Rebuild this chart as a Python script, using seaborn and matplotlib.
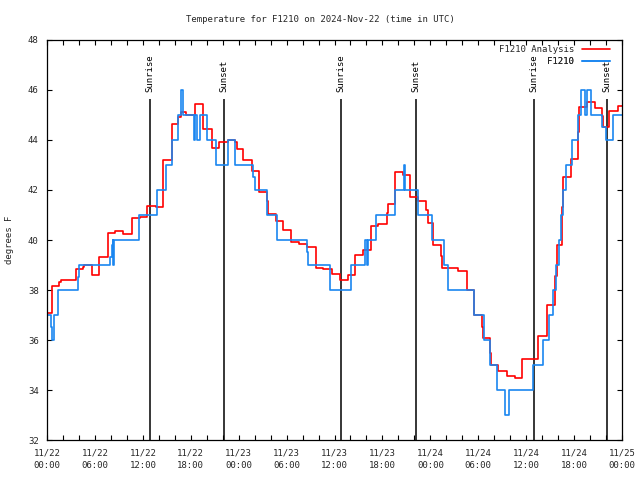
import matplotlib
matplotlib.use("Agg")
import matplotlib.pyplot as plt
import matplotlib.dates as mdates
import numpy as np
import pandas as pd
import seaborn as sns

# ---------------- data (hours after 2024-11-22 00:00 UTC) ----------------
analysis_hours = [0.00, 0.59, 0.66, 1.54, 1.72, 3.59, 3.67, 4.55, 4.67, 5.60, 5.67, 6.55,
                  7.60, 8.55, 9.55, 10.61, 11.65, 12.56, 13.65, 14.56, 15.69, 16.44, 16.74,
                  17.41, 18.53, 19.57, 20.62, 21.58, 22.70, 23.54, 23.83, 24.58, 25.63,
                  26.58, 27.51, 27.64, 28.64, 29.59, 30.55, 31.56, 32.59, 33.65, 34.60,
                  35.65, 36.69, 37.65, 37.73, 38.57, 39.61, 40.57, 41.49, 42.54, 42.74,
                  43.58, 44.54, 45.45, 46.49, 47.46, 47.75, 48.37, 49.34, 49.50, 50.55,
                  51.50, 52.55, 53.51, 54.51, 54.63, 55.47, 55.60, 56.51, 57.56, 58.60,
                  59.44, 61.52, 62.57, 63.61, 63.82, 64.53, 64.65, 65.58, 66.53, 66.62,
                  67.58, 68.62, 69.46, 69.66, 70.41, 71.54, 72.00]
analysis_temp = [37.07, 37.60, 38.15, 38.31, 38.39, 38.63, 38.83, 38.93, 39.00, 38.83, 38.60, 39.32,
                 40.27, 40.35, 40.24, 40.87, 40.93, 41.36, 41.31, 43.19, 44.63, 44.93, 45.12,
                 44.99, 45.43, 44.43, 43.69, 43.92, 43.99, 43.92, 43.63, 43.20, 42.75,
                 41.93, 41.56, 41.03, 40.76, 40.40, 39.92, 39.83, 39.72, 38.89, 38.83,
                 38.63, 38.39, 38.49, 38.59, 39.39, 39.59, 40.56, 40.63, 41.07, 41.44,
                 42.71, 42.60, 41.73, 41.56, 41.20, 40.69, 39.79, 39.36, 38.89, 38.87,
                 38.76, 38.00, 37.00, 36.53, 36.08, 35.47, 34.99, 34.76, 34.56, 34.47,
                 35.23, 36.16, 37.39, 38.56, 39.79, 41.33, 42.53, 43.24, 44.33, 45.31,
                 45.52, 45.27, 44.96, 44.51, 45.17, 45.37, 45.37]

obs_hours = [0.00, 0.50, 0.59, 0.91, 1.41, 3.92, 4.04, 7.93, 8.10, 8.23, 8.30, 8.34,
             11.56, 13.81, 14.90, 15.69, 16.44, 16.74, 17.07, 18.41, 18.49, 18.82,
             19.22, 20.04, 21.22, 22.63, 23.60, 25.83, 26.05, 27.55, 28.76, 28.86,
             32.59, 32.72, 35.44, 38.03, 39.82, 40.03, 40.23, 41.20, 43.58, 44.74,
             44.89, 46.49, 48.17, 49.75, 50.21, 53.51, 54.76, 55.47, 56.39, 57.39,
             57.89, 60.89, 62.15, 62.90, 63.32, 63.77, 64.17, 64.36, 64.57, 64.95,
             65.70, 66.53, 66.92, 67.34, 67.58, 68.12, 69.46, 69.96, 70.91, 72.00]
obs_temp = [37, 36.5, 36, 37, 38, 38.5, 39, 39.3, 39.8, 40, 39, 40,
            41, 42, 43, 44, 45, 46, 45, 44, 45, 44,
            45, 44, 43, 44, 43, 42.5, 42, 41, 40.5, 40,
            39.5, 39, 38, 39, 40, 39, 40, 41, 42, 43,
            42, 41, 40, 39, 38, 37, 36, 35, 34, 33,
            34, 35, 36, 37, 38, 39, 40, 41, 42, 43,
            44, 45, 46, 45, 46, 45, 44.5, 44, 45, 45]

sunrise_hours = [12.90, 36.85, 60.94]
sunset_hours = [22.20, 46.25, 70.16]

series_labels = ["F1210 Analysis", "F1210"]
title = "Temperature for F1210 on 2024-Nov-22 (time in UTC)"
ylabel = "degrees F"
start = pd.Timestamp("2024-11-22 00:00")
end = pd.Timestamp("2024-11-25 00:00")

# ---------------- style ----------------
sns.set_theme(style="ticks")
plt.rcParams["font.family"] = ["DejaVu Sans Mono"]
FS = 6.5

fig = plt.figure(figsize=(6.4, 4.8), dpi=100)
ax = fig.add_axes([47 / 640, 40 / 480, 575 / 640, 400 / 480])

df_a = pd.DataFrame({"time": start + pd.to_timedelta(analysis_hours, unit="h"),
                     "temp": analysis_temp})
df_o = pd.DataFrame({"time": start + pd.to_timedelta(obs_hours, unit="h"),
                     "temp": obs_temp})

sns.lineplot(data=df_a, x="time", y="temp", ax=ax, color="#ff0000", lw=1.2,
             drawstyle="steps-post", estimator=None, sort=False, legend=False)
sns.lineplot(data=df_o, x="time", y="temp", ax=ax, color="#1a86f0", lw=1.2,
             drawstyle="steps-post", estimator=None, sort=False, legend=False)

# sunrise / sunset markers
for hrs, lab in ((sunrise_hours, "Sunrise"), (sunset_hours, "Sunset")):
    for h in hrs:
        t = start + pd.Timedelta(hours=h)
        ax.vlines(t, 32, 45.64, color="black", lw=1.1, zorder=1)
        ax.text(t, 45.92, lab, rotation=90, ha="center", va="bottom",
                fontsize=FS, color="black")

ax.set_xlim(start, end)
ax.set_ylim(32, 48)
ax.set_yticks(np.arange(32, 49, 2))
ax.xaxis.set_major_locator(mdates.HourLocator(byhour=[0, 6, 12, 18]))
ax.xaxis.set_minor_locator(mdates.HourLocator(interval=2))
ax.xaxis.set_major_formatter(mdates.DateFormatter("%m/%d\n%H:%M"))
ax.tick_params(axis="both", which="both", direction="in", top=True, right=True,
               labelsize=FS, color="black", width=0.8)
ax.tick_params(axis="x", which="major", length=3.5, pad=6)
ax.tick_params(axis="x", which="minor", length=3.5)
ax.tick_params(axis="y", which="major", length=3.8, pad=6)
for lbl in ax.get_xticklabels():
    lbl.set_linespacing(1.55)
for s in ax.spines.values():
    s.set_visible(True)
    s.set_color("black")
    s.set_linewidth(0.9)
ax.set_xlabel("")
ax.set_ylabel("")
ax.grid(False)

fig.text(0.5, 1 - 20 / 480, title, ha="center", va="center", fontsize=FS)
fig.text(10 / 640, 0.5, ylabel, rotation=90, ha="center", va="center", fontsize=FS)

# gnuplot-like legend: right aligned text followed by line sample
lines = ax.get_lines()
anchors_y = [(440 - 50) / 400, (440 - 62) / 400]
for ln, lab, ay in zip(lines[:2], series_labels, anchors_y):
    leg = ax.legend([ln], [lab], loc="center right", bbox_to_anchor=(0.979, ay),
                    frameon=False, markerfirst=False, fontsize=FS,
                    handlelength=3.1, handletextpad=0.9, borderpad=0, borderaxespad=0)
    ax.add_artist(leg)

fig.savefig("out.png", dpi=100, facecolor="white")
